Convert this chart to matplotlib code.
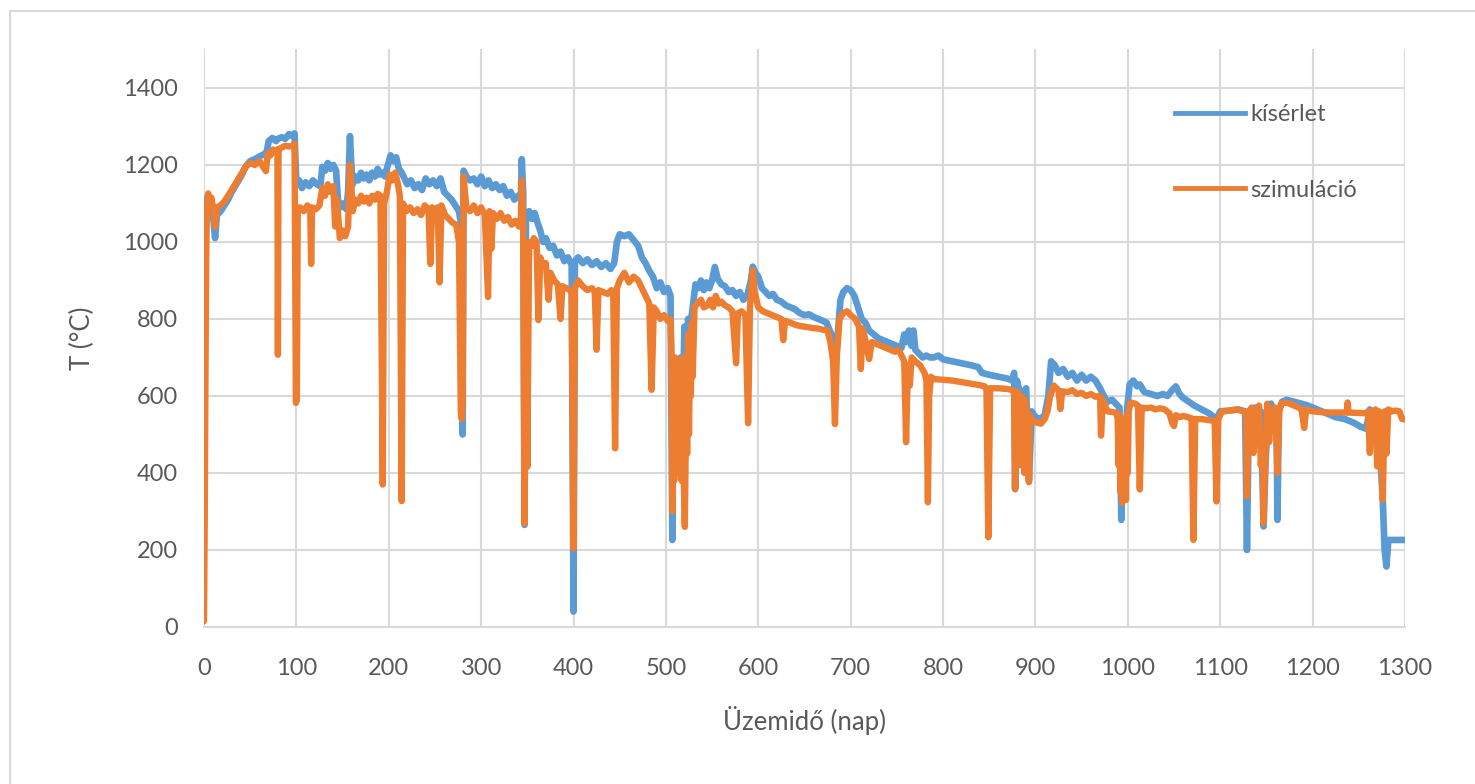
import matplotlib
matplotlib.use("Agg")
import matplotlib.pyplot as plt
from matplotlib.patches import Rectangle
from matplotlib.lines import Line2D

plt.rcParams['font.family'] = ['Lato', 'DejaVu Sans']

# Measured temperature (kísérlet): operating day, temperature in °C
exp_days = [
    1, 3, 6, 9, 12, 14, 18, 22, 26, 30, 35, 40, 45, 50, 55, 60, 65, 68, 70, 74,
    78, 80, 84, 88, 92, 96, 98, 100, 103, 106, 110, 114, 118, 122, 126, 128, 131,
    134, 137, 140, 143, 145, 148, 151, 154, 156, 158, 159.5, 161, 164, 167, 170,
    173, 176, 179, 182, 185, 188, 190, 193, 196, 199, 202, 205, 208, 211, 214, 217,
    220, 224, 228, 232, 236, 240, 244, 248, 252, 256, 260, 264, 268, 272, 276, 278,
    280, 281, 284, 288, 292, 296, 300, 304, 308, 312, 316, 320, 324, 328, 332, 336,
    340, 343, 344, 345.5, 347, 348.5, 352, 355, 358, 361, 364, 367, 370, 374, 378,
    382, 386, 390, 394, 398, 400, 401.5, 405, 410, 415, 420, 425, 430, 435, 440,
    444, 447, 450, 455, 460, 465, 470, 474, 478, 482, 486, 490, 494, 498, 502, 505,
    507, 508.5, 510, 512, 514, 516, 518, 520, 522, 524, 526, 528, 530, 532, 535,
    538, 541, 544, 547, 550, 553, 556, 560, 564, 568, 572, 576, 580, 584, 588, 592,
    594, 597, 600, 604, 608, 612, 616, 620, 625, 630, 635, 640, 645, 650, 655, 660,
    665, 670, 674, 679, 682, 686, 689, 692, 696, 700, 704, 708, 712, 716, 720, 725,
    730, 735, 740, 745, 750, 755, 758, 760, 763, 766, 768, 770, 774, 778, 782, 786,
    790, 795, 800, 810, 820, 830, 838, 842, 850, 860, 870, 875, 877, 878, 880, 884,
    890, 893, 896, 900, 905, 910, 914, 917, 921, 925, 930, 935, 940, 945, 950, 955,
    960, 965, 970, 974, 978, 983, 987, 991, 993, 995, 997, 999, 1002, 1006, 1010,
    1013, 1018, 1025, 1032, 1038, 1043, 1048, 1052, 1056, 1060, 1066, 1072, 1080,
    1088, 1096, 1100, 1110, 1120, 1127, 1129, 1131, 1138, 1142, 1144, 1147, 1149,
    1152, 1155, 1158, 1161, 1162, 1163.5, 1167, 1172, 1180, 1188, 1195, 1205, 1215,
    1225, 1235, 1245, 1252, 1258, 1262, 1264, 1268, 1272, 1276, 1278, 1280, 1282,
    1290, 1300,
]
exp_temp = [
    940, 1115, 1105, 1090, 1010, 1070, 1080, 1095, 1110, 1130, 1150, 1170, 1195,
    1210, 1215, 1222, 1228, 1235, 1262, 1270, 1262, 1268, 1272, 1268, 1280, 1275,
    1282, 1150, 1160, 1140, 1155, 1145, 1160, 1150, 1145, 1195, 1185, 1205, 1190,
    1200, 1185, 1110, 1090, 1100, 1085, 1130, 1275, 1200, 1150, 1170, 1160, 1180,
    1165, 1175, 1160, 1180, 1170, 1190, 1175, 1180, 1170, 1200, 1225, 1210, 1220,
    1190, 1180, 1165, 1150, 1160, 1140, 1150, 1135, 1165, 1150, 1160, 1145, 1165,
    1130, 1120, 1110, 1095, 1080, 1050, 500, 1185, 1170, 1160, 1165, 1150, 1170,
    1145, 1160, 1140, 1150, 1135, 1145, 1120, 1130, 1110, 1120, 1110, 1215, 1130,
    265, 1060, 1080, 1060, 1075, 1050, 1030, 1000, 1010, 985, 990, 965, 975, 950,
    960, 940, 40, 950, 960, 945, 955, 940, 950, 935, 945, 930, 945, 1000, 1020,
    1015, 1020, 1005, 990, 960, 945, 925, 910, 880, 895, 870, 880, 860, 226, 700,
    500, 650, 450, 700, 500, 780, 600, 800, 700, 810, 850, 890, 880, 900, 875, 895,
    880, 900, 935, 905, 890, 885, 870, 875, 860, 870, 850, 860, 900, 936, 920, 910,
    880, 870, 860, 865, 850, 845, 835, 830, 825, 815, 810, 812, 805, 800, 795, 790,
    760, 713, 760, 850, 870, 880, 875, 860, 830, 800, 790, 770, 760, 750, 745, 740,
    735, 730, 725, 760, 740, 770, 730, 770, 720, 710, 700, 705, 700, 700, 705, 695,
    690, 685, 680, 675, 660, 655, 650, 645, 640, 660, 358, 640, 600, 620, 380, 560,
    545, 540, 550, 600, 690, 680, 660, 670, 650, 660, 640, 655, 640, 650, 640, 620,
    600, 585, 590, 580, 570, 278, 450, 330, 560, 630, 640, 625, 630, 610, 605, 600,
    605, 600, 615, 625, 605, 595, 585, 575, 565, 555, 540, 560, 562, 565, 560, 200,
    560, 570, 500, 560, 261, 420, 570, 580, 560, 560, 278, 560, 585, 590, 585, 580,
    575, 565, 555, 545, 540, 530, 520, 515, 565, 520, 540, 500, 330, 200, 157, 226,
    226, 226,
]

# Simulated temperature (szimuláció): operating day, temperature in °C
sim_days = [
    0, 0.8, 1.5, 2.3, 3, 4.5, 6, 8, 10, 12, 14, 18, 22, 26, 30, 35, 40, 45, 50, 55,
    60, 64, 67, 69, 72, 75, 78, 79.5, 80, 80.7, 84, 88, 92, 96, 98, 99.5, 100.5,
    101.5, 104, 108, 112, 115, 116, 117, 121, 125, 128, 131, 134, 137, 140, 142,
    144, 147, 150, 153, 156, 158, 159.5, 161, 164, 167, 170, 173, 176, 179, 182,
    185, 188, 191, 193.5, 195, 198, 201, 204, 207, 210, 212, 214, 215.5, 219, 223,
    227, 231, 235, 239, 243, 245, 247, 251, 253, 255, 257, 261, 265, 269, 273, 276,
    278, 279, 280, 281, 284, 288, 292, 296, 300, 304, 307.5, 309, 311, 313, 317,
    321, 325, 329, 333, 337, 341, 343, 344, 345.5, 347, 348.5, 350, 352, 355, 357,
    360, 362, 364, 367, 370, 373, 375, 379, 383, 386, 388, 392, 396, 398, 400,
    401.5, 405, 410, 415, 420, 423, 425, 427, 432, 437, 441, 443, 445, 447, 450,
    455, 460, 465, 470, 474, 478, 482, 484.5, 487, 490, 494, 498, 502, 505, 506,
    507, 508, 509, 510, 511, 512, 513, 514, 515, 516, 517, 518, 519, 520.5, 522,
    523, 524, 525, 526, 527, 528, 529, 531, 534, 538, 541, 545, 548, 551, 554, 557,
    560, 564, 568, 572, 576, 578, 582, 586, 589, 591, 594, 596, 600, 605, 610, 615,
    620, 625, 627, 629, 635, 640, 645, 650, 655, 660, 665, 670, 675, 678, 681, 683,
    685, 688, 692, 696, 700, 705, 709, 711, 713, 716, 720, 723, 728, 733, 738, 743,
    748, 752, 755, 758, 760, 762, 764, 766, 770, 775, 780, 782, 783.6, 785, 787,
    790, 800, 810, 820, 830, 840, 845, 847, 849, 851, 860, 870, 876, 877, 878, 879,
    880, 881, 882, 883, 884, 885, 886, 887, 888, 889, 890, 891, 892, 893, 894, 896,
    898, 902, 906, 910, 913, 916, 920, 925, 927, 929, 935, 940, 945, 950, 955, 960,
    965, 970, 971, 973, 978, 984, 988, 989, 990, 991, 992, 993, 994, 995, 996, 997,
    998, 999, 1000, 1001, 1003, 1008, 1011, 1013, 1015, 1020, 1025, 1030, 1035,
    1040, 1045, 1048, 1050, 1052, 1056, 1060, 1065, 1069, 1071, 1073, 1080, 1088,
    1094, 1096, 1098, 1102, 1110, 1118, 1125, 1128, 1129, 1131, 1134, 1136, 1138,
    1140, 1142, 1144, 1146, 1147, 1149, 1151, 1153, 1155, 1157, 1159, 1161, 1162,
    1164, 1166, 1170, 1175, 1180, 1185, 1188, 1191, 1193, 1200, 1210, 1220, 1230,
    1237, 1238, 1239, 1250, 1258, 1260, 1262, 1264, 1266, 1268, 1270, 1272, 1274,
    1276, 1278, 1280, 1282, 1286, 1290, 1294, 1297, 1300,
]
sim_temp = [
    15, 280, 620, 930, 1080, 1126, 1100, 1115, 1085, 1040, 1090, 1095, 1105, 1120,
    1135, 1155, 1175, 1195, 1205, 1200, 1210, 1195, 1184, 1230, 1225, 1240, 1235,
    1240, 707, 1240, 1245, 1250, 1248, 1250, 1255, 582, 590, 1085, 1090, 1080,
    1095, 1085, 943, 1090, 1085, 1095, 1140, 1120, 1150, 1130, 1145, 1040, 1110,
    1010, 1030, 1015, 1040, 1200, 1150, 1080, 1110, 1100, 1120, 1105, 1115, 1100,
    1120, 1110, 1125, 1120, 370, 1100, 1130, 1175, 1160, 1180, 1150, 1120, 327,
    1100, 1080, 1090, 1075, 1085, 1070, 1095, 1085, 943, 1090, 1080, 1090, 895,
    1095, 1070, 1060, 1050, 1045, 1000, 560, 540, 587, 1170, 1090, 1080, 1095,
    1075, 1090, 1070, 857, 1080, 982, 1075, 1060, 1075, 1055, 1065, 1045, 1055,
    1040, 1060, 1160, 1050, 269, 900, 416, 1000, 990, 1010, 1000, 797, 960, 940,
    945, 850, 920, 900, 890, 800, 885, 880, 875, 870, 204, 880, 900, 885, 875, 880,
    870, 720, 875, 870, 865, 875, 870, 464, 880, 900, 920, 895, 910, 900, 880, 860,
    840, 616, 830, 820, 800, 810, 795, 800, 720, 300, 650, 380, 700, 400, 600, 450,
    680, 400, 620, 380, 700, 420, 260, 600, 450, 760, 500, 700, 600, 790, 650, 830,
    840, 850, 830, 835, 850, 830, 860, 840, 845, 835, 830, 820, 685, 815, 820, 810,
    529, 830, 927, 870, 830, 820, 815, 810, 805, 800, 745, 795, 790, 785, 782, 780,
    778, 776, 775, 772, 770, 740, 690, 527, 700, 800, 815, 820, 810, 800, 780, 670,
    775, 745, 696, 740, 735, 730, 725, 720, 715, 720, 705, 690, 480, 680, 627, 700,
    690, 680, 660, 640, 324, 600, 650, 644, 642, 640, 636, 632, 628, 625, 620, 233,
    620, 620, 618, 615, 600, 358, 600, 450, 610, 480, 590, 420, 600, 500, 580, 400,
    590, 460, 560, 420, 376, 550, 540, 535, 530, 528, 540, 560, 600, 627, 615, 566,
    612, 610, 615, 605, 608, 600, 605, 598, 600, 497, 590, 560, 558, 556, 540, 420,
    550, 350, 500, 322, 520, 380, 540, 330, 550, 400, 560, 583, 580, 575, 357, 570,
    568, 570, 565, 568, 565, 555, 530, 522, 550, 545, 548, 545, 542, 226, 540, 540,
    537, 535, 326, 540, 560, 562, 565, 560, 555, 339, 560, 570, 452, 560, 500, 575,
    420, 500, 270, 450, 580, 480, 560, 520, 570, 480, 400, 560, 580, 583, 580, 575,
    570, 565, 517, 565, 560, 558, 557, 557, 557, 583, 557, 556, 555, 560, 452, 560,
    490, 565, 417, 560, 500, 330, 560, 450, 565, 560, 562, 560, 540, 539,
]

x_ticks = list(range(0, 1301, 100))
y_ticks = list(range(0, 1401, 200))

series_names = ['kísérlet', 'szimuláció']
series_colors = ['#5B9BD5', '#ED7D31']
text_color = '#595959'
grid_color = '#D9D9D9'

fig = plt.figure(figsize=(14.75, 7.84), dpi=100)
fig.patch.set_facecolor('white')
fig.patches.append(Rectangle((10 / 1475, -0.05), 1.2, 1.05 - 11 / 784,
                             transform=fig.transFigure, fill=False,
                             edgecolor=grid_color, linewidth=1.5, zorder=0))

ax = fig.add_axes([0.1383, 0.2003, 0.8142, 0.7366])
ax.plot(exp_days, exp_temp, color=series_colors[0], lw=4.8,
        solid_joinstyle='round', solid_capstyle='round', zorder=3)
ax.plot(sim_days, sim_temp, color=series_colors[1], lw=4.6,
        solid_joinstyle='round', solid_capstyle='round', zorder=4)

ax.set_xlim(0, 1300)
ax.set_ylim(0, 1500)
ax.set_xticks(x_ticks)
ax.set_yticks(y_ticks)
ax.grid(True, color=grid_color, lw=1.5, zorder=0)
ax.set_axisbelow(True)
for side in ['top', 'right', 'left']:
    ax.spines[side].set_visible(False)
ax.spines['bottom'].set_color(grid_color)
ax.spines['bottom'].set_linewidth(1.5)
ax.tick_params(axis='both', length=0, labelsize=17, labelcolor=text_color)
ax.tick_params(axis='y', pad=19)
ax.tick_params(axis='x', pad=22)

ax.set_xlabel('Üzemidő (nap)', fontsize=18.5, color=text_color, labelpad=20)
ax.set_ylabel('T (°C)', fontsize=18.5, color=text_color, labelpad=20)

handles = [Line2D([], [], color=c, lw=3.5) for c in series_colors]
leg = ax.legend(handles, series_names, loc='upper left',
                bbox_to_anchor=(0.791, 0.942), frameon=False, fontsize=17,
                handlelength=2.97, handletextpad=0.2, labelspacing=2.3)
for t in leg.get_texts():
    t.set_color(text_color)

fig.savefig('out.png', dpi=100, facecolor='white')
